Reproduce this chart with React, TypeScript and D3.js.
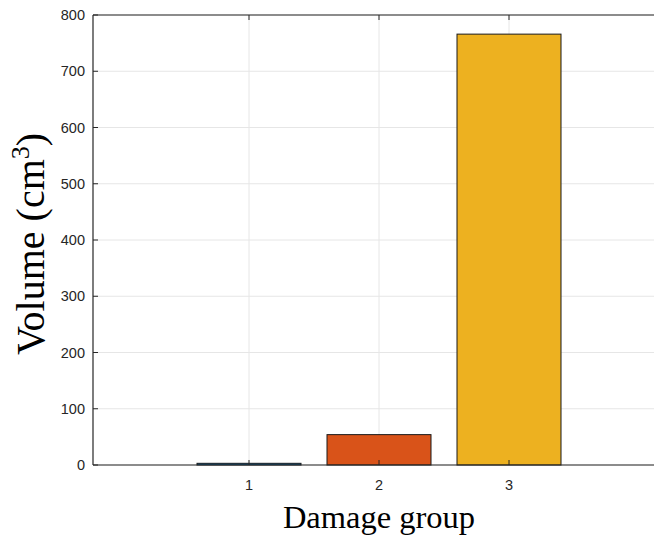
import React, { useEffect, useRef } from 'react';
import * as d3 from 'd3';

// damage groups and their volumes (cm^3)
const groups = [1, 2, 3];
const volumes = [3, 54, 766];
const barColors = ['#0072BD', '#D95319', '#EDB120'];
const yTicks = [0, 100, 200, 300, 400, 500, 600, 700, 800];

const width = 654;
const height = 542;
const margin = { left: 93, top: 15, right: -11, bottom: 77 };

const App = () => {
  const ref = useRef<SVGSVGElement>(null);

  useEffect(() => {
    const svg = d3.select(ref.current);
    svg.selectAll('*').remove();

    const x = d3.scaleLinear()
      .domain([-0.2, 4.2])
      .range([margin.left, width - margin.right]);

    const y = d3.scaleLinear()
      .domain([0, 800])
      .range([height - margin.bottom, margin.top]);

    const x0 = x(-0.2), x1 = x(4.2), y0 = y(0), y1 = y(800);

    // grid
    const grid = svg.append('g').attr('stroke', '#e6e6e6').attr('stroke-width', 1);
    grid.selectAll('line.gy')
      .data(yTicks)
      .enter()
        .append('line')
          .attr('x1', x0).attr('x2', x1)
          .attr('y1', d => y(d)).attr('y2', d => y(d));
    grid.selectAll('line.gx')
      .data(groups)
      .enter()
        .append('line')
          .attr('x1', d => x(d)).attr('x2', d => x(d))
          .attr('y1', y0).attr('y2', y1);

    // bars
    const bw = x(0.8) - x(0);
    svg.append('g')
      .selectAll('rect')
      .data(groups)
      .enter()
        .append('rect')
          .attr('x', d => x(d) - bw / 2)
          .attr('y', (d, i) => y(volumes[i]))
          .attr('width', bw)
          .attr('height', (d, i) => y0 - y(volumes[i]))
          .attr('fill', (d, i) => barColors[i])
          .attr('stroke', '#1a1a1a')
          .attr('stroke-width', 1);

    // axes box
    const axisColor = '#262626';
    svg.append('line').attr('x1', x0).attr('x2', x1).attr('y1', y0).attr('y2', y0)
      .attr('stroke', axisColor).attr('stroke-width', 1.2);
    svg.append('line').attr('x1', x0).attr('x2', x1).attr('y1', y1).attr('y2', y1)
      .attr('stroke', axisColor).attr('stroke-width', 1.2);
    svg.append('line').attr('x1', x0).attr('x2', x0).attr('y1', y0).attr('y2', y1)
      .attr('stroke', axisColor).attr('stroke-width', 1.2);

    // y ticks
    const yt = svg.append('g');
    yt.selectAll('line')
      .data(yTicks)
      .enter()
        .append('line')
          .attr('x1', x0).attr('x2', x0 + 5)
          .attr('y1', d => y(d)).attr('y2', d => y(d))
          .attr('stroke', axisColor);
    yt.selectAll('text')
      .data(yTicks)
      .enter()
        .append('text')
          .attr('x', x0 - 8)
          .attr('y', d => y(d))
          .attr('dy', '0.35em')
          .attr('text-anchor', 'end')
          .attr('font-family', "'Liberation Sans', Arial, sans-serif")
          .attr('font-size', 14.5)
          .attr('fill', axisColor)
          .text(d => d);

    // x ticks
    const xt = svg.append('g');
    xt.selectAll('line.b')
      .data(groups)
      .enter()
        .append('line')
          .attr('x1', d => x(d)).attr('x2', d => x(d))
          .attr('y1', y0).attr('y2', y0 - 5)
          .attr('stroke', axisColor);
    xt.selectAll('line.t')
      .data(groups)
      .enter()
        .append('line')
          .attr('x1', d => x(d)).attr('x2', d => x(d))
          .attr('y1', y1).attr('y2', y1 + 5)
          .attr('stroke', axisColor);
    xt.selectAll('text')
      .data(groups)
      .enter()
        .append('text')
          .attr('x', d => x(d))
          .attr('y', y0 + 25)
          .attr('text-anchor', 'middle')
          .attr('font-family', "'Liberation Sans', Arial, sans-serif")
          .attr('font-size', 14.5)
          .attr('fill', axisColor)
          .text(d => d);

    // labels
    svg.append('text')
      .attr('x', x(2))
      .attr('y', 528)
      .attr('text-anchor', 'middle')
      .attr('font-family', "'Liberation Serif', 'Times New Roman', serif")
      .attr('font-size', 32.5)
      .attr('fill', '#000')
      .text('Damage group');

    const yl = svg.append('text')
      .attr('transform', `translate(44, ${(y0 + y1) / 2 + 4}) rotate(-90)`)
      .attr('text-anchor', 'middle')
      .attr('font-family', "'Liberation Serif', 'Times New Roman', serif")
      .attr('font-size', 40)
      .attr('fill', '#000');
    yl.append('tspan').text('Volume (cm');
    yl.append('tspan').attr('font-size', 26).attr('dy', -15).text('3');
    yl.append('tspan').attr('dy', 15).text(')');
  }, []);

  return (
    <svg
      ref={ref}
      width={width}
      height={height}
      style={{ position: 'absolute', left: 0, top: 0, background: '#fff' }}
    />
  );
};

export default App;
